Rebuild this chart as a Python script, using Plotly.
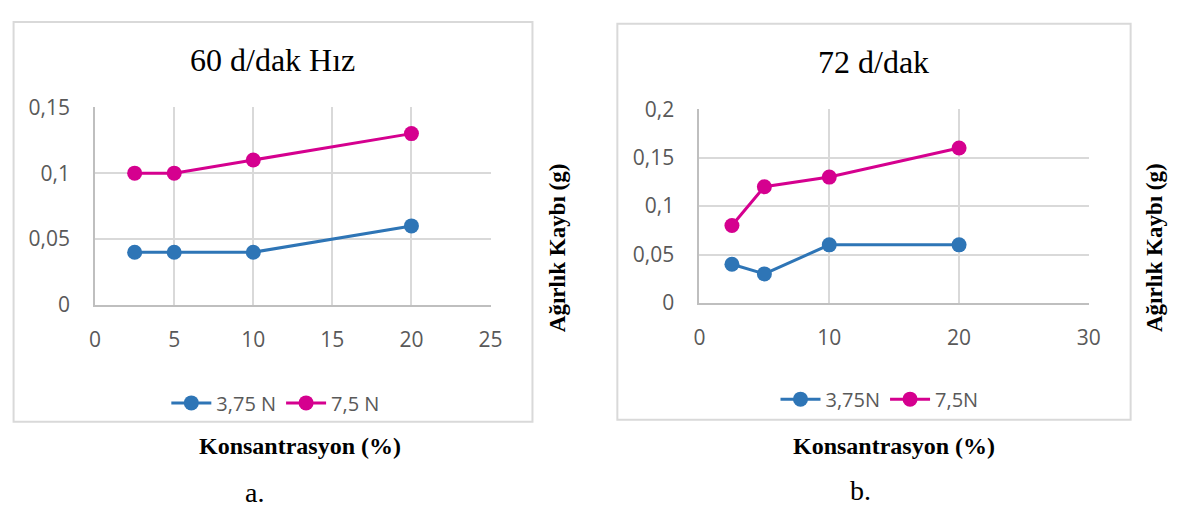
import plotly.graph_objects as go

# Concentration (%) on the x axis, weight loss (g) on the y axis
konsantrasyon = [2.5, 5, 10, 20]

# Panel a: 60 d/dak
a_375 = [0.04, 0.04, 0.04, 0.06]
a_75 = [0.10, 0.10, 0.11, 0.13]

# Panel b: 72 d/dak
b_375 = [0.04, 0.03, 0.06, 0.06]
b_75 = [0.08, 0.12, 0.13, 0.16]

a_yvals = [0, 0.05, 0.10, 0.15]
a_ytext = ["0", "0,05", "0,1", "0,15"]
a_xvals = [0, 5, 10, 15, 20, 25]

b_yvals = [0, 0.05, 0.10, 0.15, 0.20]
b_ytext = ["0", "0,05", "0,1", "0,15", "0,2"]
b_xvals = [0, 10, 20, 30]

BLUE = "#2E75B6"
MAGENTA = "#D5008F"
GRID = "#D9D9D9"
AXIS = "#BFBFBF"
TICK = "#595959"
W, H = 1183, 520

def px(x):
    return x / W

def py(y):
    return 1 - y / H

fig = go.Figure()

def add_series(x, y, name, color, xa, ya, legend):
    fig.add_trace(go.Scatter(
        x=x, y=y, name=name, mode="lines+markers",
        line=dict(color=color, width=3),
        marker=dict(color=color, size=15, line=dict(width=0)),
        xaxis=xa, yaxis=ya, legend=legend,
    ))

add_series(konsantrasyon, a_375, "3,75 N", BLUE, "x", "y", "legend")
add_series(konsantrasyon, a_75, "7,5 N", MAGENTA, "x", "y", "legend")
add_series(konsantrasyon, b_375, "3,75N", BLUE, "x2", "y2", "legend2")
add_series(konsantrasyon, b_75, "7,5N", MAGENTA, "x2", "y2", "legend2")

tick_font = dict(family="Open Sans", size=21, color=TICK)
axis_common = dict(
    showgrid=True, gridcolor=GRID, gridwidth=1.5,
    showline=True, linecolor=AXIS, linewidth=2,
    zeroline=False, ticks="", tickfont=tick_font, fixedrange=True,
)

legend_font = dict(family="Open Sans", size=20, color=TICK)

fig.update_layout(
    width=W, height=H,
    margin=dict(l=0, r=0, t=0, b=0),
    paper_bgcolor="white", plot_bgcolor="white",
    xaxis=dict(domain=[px(90.5), px(492)], range=[0, 25],
               tickmode="array", tickvals=a_xvals, ticklabelstandoff=15,
               anchor="y", **axis_common),
    yaxis=dict(domain=[py(306.5), py(97.5)], range=[0, 0.15],
               tickmode="array", tickvals=a_yvals, ticktext=a_ytext,
               ticklabelstandoff=19, anchor="x", **axis_common),
    xaxis2=dict(domain=[px(704.2), px(1099.6)], range=[0, 30],
                tickmode="array", tickvals=b_xvals, ticklabelstandoff=15,
                anchor="y2", **axis_common),
    yaxis2=dict(domain=[py(304.3), py(99.7)], range=[0, 0.2],
                tickmode="array", tickvals=b_yvals, ticktext=b_ytext,
                ticklabelstandoff=19, anchor="x2", **axis_common),
    legend=dict(orientation="h", x=px(274), y=py(410), xanchor="center",
                yanchor="middle", font=legend_font,
                bgcolor="rgba(0,0,0,0)", itemwidth=40),
    legend2=dict(orientation="h", x=px(887), y=py(406), xanchor="center",
                 yanchor="middle", font=legend_font,
                 bgcolor="rgba(0,0,0,0)", itemwidth=40),
    showlegend=True,
)

# Chart frames around each panel
for x0, y0, x1, y1 in [(7.7, 7.5, 534.6, 430), (620.8, 9.3, 1142, 427.7)]:
    fig.add_shape(type="rect", xref="paper", yref="paper",
                  x0=px(x0), x1=px(x1), y0=py(y1), y1=py(y0),
                  line=dict(color=GRID, width=2), fillcolor="rgba(0,0,0,0)",
                  layer="below")

serif = "Liberation Serif"
annotations = [
    dict(text="60 d/dak Hız", x=px(271), y=py(48), size=32, bold=False, angle=0),
    dict(text="72 d/dak", x=px(881), y=py(50), size=32, bold=False, angle=0),
    dict(text="Konsantrasyon (%)", x=px(299), y=py(455), size=24, bold=True, angle=0),
    dict(text="Konsantrasyon (%)", x=px(901.5), y=py(455), size=24, bold=True, angle=0),
    dict(text="Ağırlık Kaybı (g)", x=px(560), y=py(246), size=23, bold=True, angle=-90),
    dict(text="Ağırlık Kaybı (g)", x=px(1166), y=py(246), size=23, bold=True, angle=-90),
    dict(text="a.", x=px(252), y=py(505), size=28, bold=False, angle=0),
    dict(text="b.", x=px(868), y=py(503), size=28, bold=False, angle=0),
]
for a in annotations:
    txt = f"<b>{a['text']}</b>" if a["bold"] else a["text"]
    fig.add_annotation(text=txt, x=a["x"], y=a["y"], xref="paper", yref="paper",
                       xanchor="center", yanchor="middle", showarrow=False,
                       textangle=a["angle"],
                       font=dict(family=serif, size=a["size"], color="black"))

fig.write_html("out.html")
